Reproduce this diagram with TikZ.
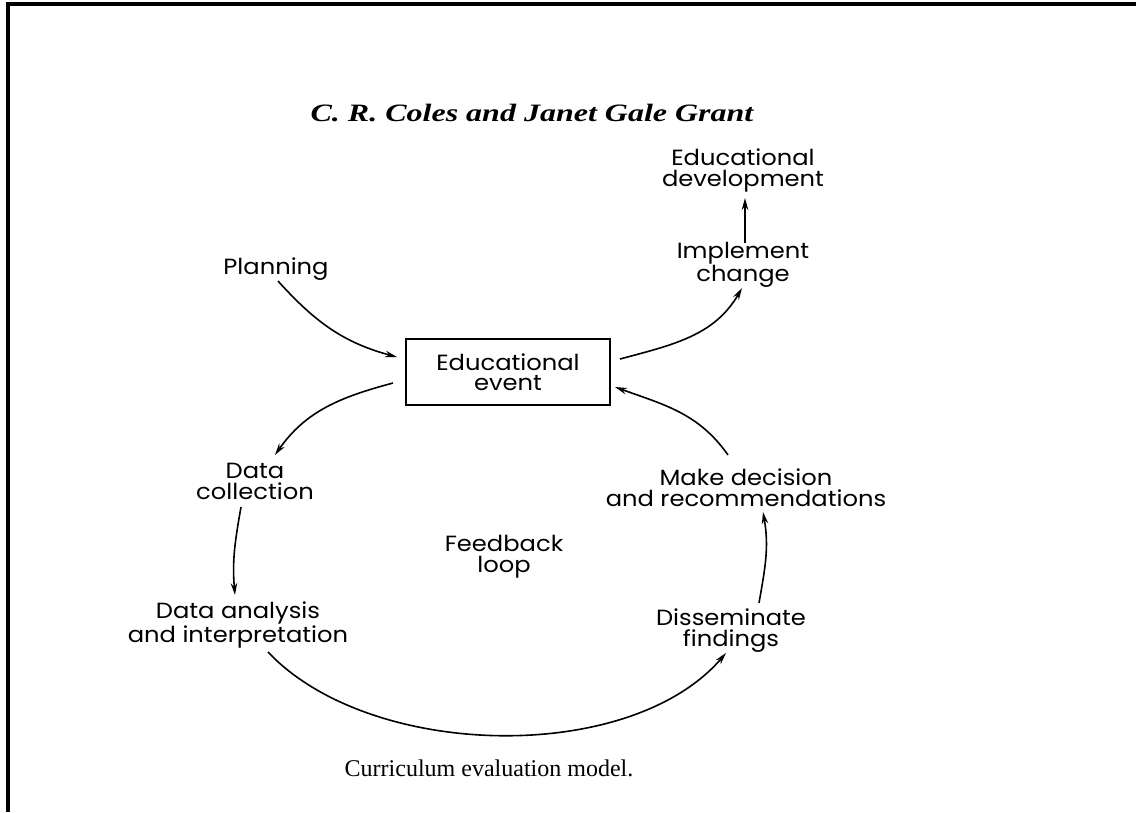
\documentclass[tikz,border=0pt]{standalone}
\usepackage{fontspec}
\setmainfont{Liberation Serif}
\newfontfamily\lbl[FakeStretch=1.1]{Poppins}
\usetikzlibrary{arrows.meta}
\tikzset{
  lab/.style={font=\lbl\fontsize{22}{21}\selectfont, align=center, inner sep=0pt},
  conn/.style={line width=1.6pt, -{Stealth[length=12pt,width=6.5pt]}},
  evbox/.style={draw, line width=2.6pt, minimum width=204pt, minimum height=66pt, inner sep=0pt, align=center, font=\lbl\fontsize{22}{20}\selectfont},
  frameline/.style={line width=4pt}
}
\begin{document}
\begin{tikzpicture}[x=1pt,y=-1pt]
\useasboundingbox (0,0) rectangle (1136,812);
\coordinate (tl) at (8,4);
\coordinate (tr) at (1136,4);
\coordinate (bl) at (8,812);
\draw[frameline] (bl) -- (tl) -- (tr);

\node[font=\bfseries\itshape\fontsize{25}{28}\selectfont, inner sep=0pt, xscale=1.28] (title) at (532,113) {C. R. Coles and Janet Gale Grant};
\node[font=\fontsize{24}{26}\selectfont, inner sep=0pt] (cap) at (489,768) {Curriculum evaluation model.};

\node[lab] (dev) at (743,170) {Educational\\development};
\node[lab] (impl) at (743,265) {Implement\\change};
\node[lab] (plan) at (276,269) {Planning};
\node[evbox] (box) at (508,372) {Educational\\event};
\node[lab] (coll) at (255,481) {Data\\collection};
\node[lab] (anal) at (238,625) {Data analysis\\and interpretation};
\node[lab] (diss) at (731,631) {Disseminate\\findings};
\node[lab] (dec) at (746,488) {Make decision\\and recommendations};
\node[lab] (fb) at (504,557) {Feedback\\loop};

\draw[conn] ([shift={(2,12)}]plan.center) to[out=-48,in=165] ([shift={(-111,-15)}]box.center);
\draw[conn] ([shift={(112,-13)}]box.center) to[out=15,in=-120] ([shift={(-1,23)}]impl.center);
\draw[conn] ([shift={(2,-22)}]impl.center) -- ([shift={(2,28)}]dev.center);
\draw[conn] ([shift={(-18,-33)}]dec.center) to[out=125,in=-20] ([shift={(107,15)}]box.center);
\draw[conn] ([shift={(-115,11)}]box.center) to[out=195,in=55] ([shift={(20,-26)}]coll.center);
\draw[conn] ([shift={(-14,26)}]coll.center) to[out=-100,in=95] ([shift={(-3,-30)}]anal.center);
\draw[conn] ([shift={(30,27)}]anal.center) .. controls (370,760) and (630,765) .. ([shift={(-5,22)}]diss.center);
\draw[conn] ([shift={(28,-28)}]diss.center) to[out=80,in=-80] ([shift={(17,24)}]dec.center);
\end{tikzpicture}
\end{document}
